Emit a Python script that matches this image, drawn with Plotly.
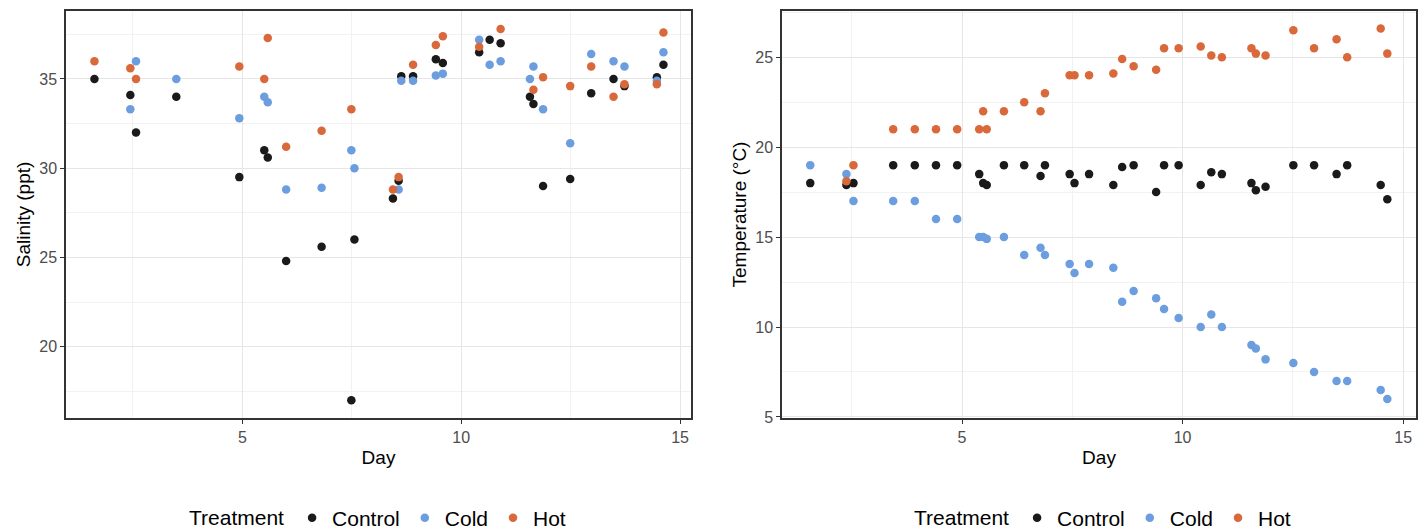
import plotly.graph_objects as go

# ---------------- Salinity panel data ----------------
sal_control_day = [1.62, 2.44, 2.57, 3.49, 4.93, 5.50, 5.58, 6.00, 6.81, 7.49, 7.56, 8.44, 8.57, 8.63, 8.90,
                   9.42, 9.58, 10.41, 10.65, 10.90, 11.57, 11.65, 11.87, 12.49, 12.97, 13.48, 13.73, 14.47, 14.62]
sal_control = [35.0, 34.1, 32.0, 34.0, 29.5, 31.0, 30.6, 24.8, 25.6, 17.0, 26.0, 28.3, 29.3, 35.15, 35.15,
               36.1, 35.9, 36.5, 37.2, 37.0, 34.0, 33.6, 29.0, 29.4, 34.2, 35.0, 34.6, 35.1, 35.8]

sal_cold_day = [2.44, 2.57, 3.49, 4.93, 5.50, 5.58, 6.00, 6.81, 7.49, 7.56, 8.57, 8.63, 8.90, 9.42, 9.58,
                10.41, 10.65, 10.90, 11.57, 11.65, 11.87, 12.49, 12.97, 13.48, 13.73, 14.47, 14.62]
sal_cold = [33.3, 36.0, 35.0, 32.8, 34.0, 33.7, 28.8, 28.9, 31.0, 30.0, 28.8, 34.9, 34.9, 35.2, 35.3,
            37.2, 35.8, 36.0, 35.0, 35.7, 33.3, 31.4, 36.4, 36.0, 35.7, 34.9, 36.5]

sal_hot_day = [1.62, 2.44, 2.57, 4.93, 5.50, 5.58, 6.00, 6.81, 7.49, 8.44, 8.57, 8.90, 9.42, 9.58,
               10.41, 10.90, 11.65, 11.87, 12.49, 12.97, 13.48, 13.73, 14.47, 14.62]
sal_hot = [36.0, 35.6, 35.0, 35.7, 35.0, 37.3, 31.2, 32.1, 33.3, 28.8, 29.5, 35.8, 36.9, 37.4,
           36.8, 37.8, 34.4, 35.1, 34.6, 35.7, 34.0, 34.7, 34.7, 37.6]

# ---------------- Temperature panel data ----------------
tmp_day = [1.56, 2.38, 2.54, 3.44, 3.93, 4.41, 4.89, 5.39, 5.48, 5.56, 5.95, 6.41, 6.78, 6.88, 7.44, 7.55,
           7.88, 8.43, 8.63, 8.89, 9.40, 9.58, 9.91, 10.41, 10.65, 10.89, 11.56, 11.66, 11.88, 12.51,
           12.98, 13.49, 13.73, 14.49, 14.64]
tmp_control = [18.0, 17.9, 18.0, 19.0, 19.0, 19.0, 19.0, 18.5, 18.0, 17.9, 19.0, 19.0, 18.4, 19.0, 18.5, 18.0,
               18.5, 17.9, 18.9, 19.0, 17.5, 19.0, 19.0, 17.9, 18.6, 18.5, 18.0, 17.6, 17.8, 19.0,
               19.0, 18.5, 19.0, 17.9, 17.1]
tmp_cold = [19.0, 18.5, 17.0, 17.0, 17.0, 16.0, 16.0, 15.0, 15.0, 14.9, 15.0, 14.0, 14.4, 14.0, 13.5, 13.0,
            13.5, 13.3, 11.4, 12.0, 11.6, 11.0, 10.5, 10.0, 10.7, 10.0, 9.0, 8.8, 8.2, 8.0,
            7.5, 7.0, 7.0, 6.5, 6.0]
tmp_hot = [None, 18.1, 19.0, 21.0, 21.0, 21.0, 21.0, 21.0, 22.0, 21.0, 22.0, 22.5, 22.0, 23.0, 24.0, 24.0,
           24.0, 24.1, 24.9, 24.5, 24.3, 25.5, 25.5, 25.6, 25.1, 25.0, 25.5, 25.2, 25.1, 26.5,
           25.5, 26.0, 25.0, 26.6, 25.2]

treatments = ["Control", "Cold", "Hot"]
colors = {"Control": "#1a1a1a", "Cold": "#6b9ddf", "Hot": "#d9683a"}

x_ticks = [5, 10, 15]
sal_ticks = [20, 25, 30, 35]
tmp_ticks = [5, 10, 15, 20, 25]

FONT = "Liberation Sans, Arial, sans-serif"

fig = go.Figure()

sal_sets = {"Control": (sal_control_day, sal_control),
            "Cold": (sal_cold_day, sal_cold),
            "Hot": (sal_hot_day, sal_hot)}
for t in treatments:
    d, v = sal_sets[t]
    fig.add_trace(go.Scatter(x=d, y=v, mode="markers", name=t, legend="legend",
                             marker=dict(color=colors[t], size=8.5),
                             xaxis="x", yaxis="y"))

tmp_sets = {"Control": tmp_control, "Cold": tmp_cold, "Hot": tmp_hot}
for t in treatments:
    fig.add_trace(go.Scatter(x=tmp_day, y=tmp_sets[t], mode="markers", name=t, legend="legend2",
                             marker=dict(color=colors[t], size=8.5),
                             xaxis="x2", yaxis="y2"))

axis_common = dict(
    showline=True, mirror=True, linecolor="#333333", linewidth=1.5,
    showgrid=True, gridcolor="#e6e6e6", gridwidth=1.4,
    ticks="outside", ticklen=4, tickwidth=1.4, tickcolor="#333333",
    tickfont=dict(family=FONT, size=16, color="#4d4d4d"),
    zeroline=False,
)
minor_grid = dict(dtick=2.5, tick0=0, showgrid=True, gridcolor="#f2f2f2", gridwidth=1)
ydom = [1 - 418 / 529, 1 - 11 / 529]
title_font = dict(family=FONT, size=19, color="#000000")
legend_common = dict(orientation="h", y=1 - 518 / 529, yanchor="middle",
                     title=dict(text="Treatment", side="left", font=dict(family=FONT, size=21)),
                     font=dict(family=FONT, size=21), bgcolor="rgba(0,0,0,0)")

fig.update_layout(
    width=1427, height=529,
    margin=dict(l=0, r=0, t=0, b=0, autoexpand=False),
    paper_bgcolor="white", plot_bgcolor="white",
    font=dict(family=FONT, color="#000000"),
    xaxis=dict(axis_common, domain=[66 / 1427, 691 / 1427], range=[0.97, 15.25],
               tickvals=x_ticks, minor=minor_grid,
               title=dict(text="Day", font=title_font, standoff=6)),
    yaxis=dict(axis_common, domain=ydom, range=[16.0, 38.81], tickvals=sal_ticks,
               minor=minor_grid,
               title=dict(text="Salinity (ppt)", font=title_font, standoff=4)),
    xaxis2=dict(axis_common, domain=[782 / 1427, 1416 / 1427], range=[0.92, 15.29],
                tickvals=x_ticks, anchor="y2", minor=minor_grid,
                title=dict(text="Day", font=title_font, standoff=6)),
    yaxis2=dict(axis_common, domain=ydom, range=[4.94, 27.57], tickvals=tmp_ticks, anchor="x2",
                minor=minor_grid,
                title=dict(text="Temperature (°C)", font=title_font, standoff=4)),
    legend=dict(legend_common, x=379 / 1427, xanchor="center"),
    legend2=dict(legend_common, x=1104 / 1427, xanchor="center"),
)

fig.write_html("out.html")
